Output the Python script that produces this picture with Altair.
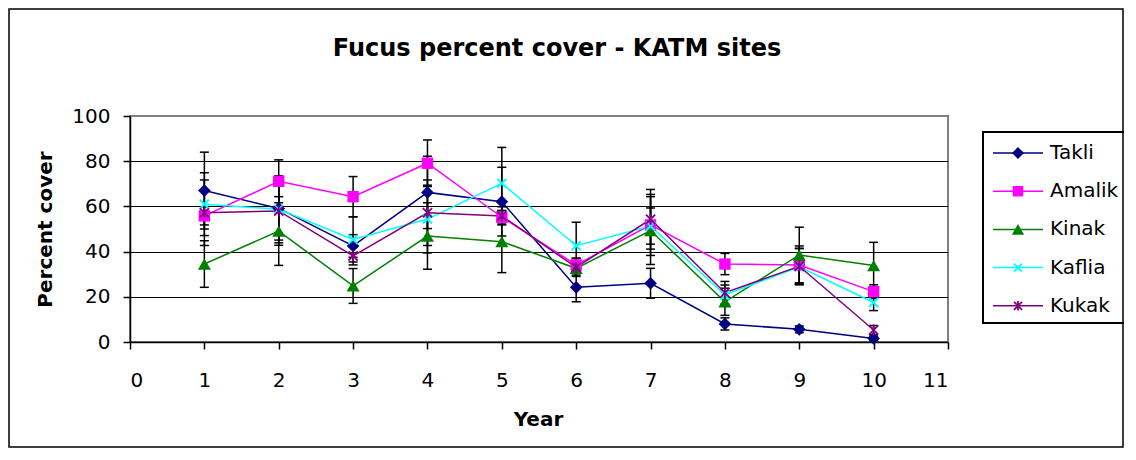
import altair as alt
import pandas as pd

years = [1, 2, 3, 4, 5, 6, 7, 8, 9, 10]
sites = ["Takli", "Amalik", "Kinak", "Kaflia", "Kukak"]
colors = ["#000080", "#FF00FF", "#008000", "#00FFFF", "#800080"]

takli = [67.0, 59.1, 42.5, 66.2, 62.1, 24.2, 26.0, 8.0, 5.6, 1.6]
takli_err = [17.0, 14.0, 5.0, 16.0, 15.2, 6.4, 6.6, 2.7, 1.5, 1.0]
amalik = [55.8, 71.1, 64.3, 79.1, 55.2, 34.1, 51.8, 34.5, 34.1, 22.3]
amalik_err = [4.0, 9.5, 8.9, 10.3, 3.0, 3.0, 13.5, 4.7, 8.4, 3.0]
kinak = [34.5, 49.1, 24.8, 46.9, 44.4, 32.6, 49.3, 17.8, 38.5, 33.8]
kinak_err = [10.3, 15.2, 7.7, 14.7, 13.7, 3.0, 15.0, 6.0, 12.3, 10.3]
kaflia = [61.0, 58.7, 45.4, 54.4, 70.2, 42.6, 51.3, 20.8, 33.3, 17.5]
kaflia_err = [13.9, 14.8, 10.0, 15.0, 15.9, 10.4, 8.0, 4.4, 8.0, 3.6]
kukak = [57.2, 58.0, 38.1, 57.2, 55.8, 33.0, 54.3, 21.8, 33.5, 5.3]
kukak_err = [14.5, 15.2, 4.0, 14.5, 4.0, 4.0, 13.2, 5.0, 8.0, 2.0]

series = [takli, amalik, kinak, kaflia, kukak]
errors = [takli_err, amalik_err, kinak_err, kaflia_err, kukak_err]

rows = []
for site, vals, errs in zip(sites, series, errors):
    for yr, v, e in zip(years, vals, errs):
        rows.append({"Year": yr, "Site": site, "Cover": v, "Lo": v - e, "Hi": v + e})
df = pd.DataFrame(rows)
legend_df = pd.DataFrame({"Site": sites, "Row": list(range(len(sites)))})

FONT = "DejaVu Sans"

x_axis = alt.Axis(values=list(range(0, 12)), format="d", title="Year", grid=False,
                  labelBaseline="alphabetic", labelPadding=37,
                  titleX=408, titleY=83, titleBaseline="alphabetic", titleAlign="center")
y_axis = alt.Axis(values=[0, 20, 40, 60, 80, 100], title="Percent cover", grid=True,
                  gridOpacity={"condition": {"test": "datum.value === 0 || datum.value === 100", "value": 0}, "value": 1},
                  labelPadding=13, titleX=-85, titleY=113, titleAngle=270,
                  titleAlign="center", titleBaseline="middle")

xs = alt.Scale(domain=[0, 11], nice=False, zero=False)
ys = alt.Scale(domain=[0, 100], nice=False)
cs = alt.Scale(domain=sites, range=colors)

base = alt.Chart(df)
X = alt.X("Year:Q", scale=xs, axis=x_axis)

err_rule = base.mark_rule(color="black", strokeWidth=1.5).encode(
    x=X, y=alt.Y("Lo:Q", scale=ys, axis=y_axis), y2="Hi:Q",
)
cap_lo = base.mark_tick(color="black", orient="horizontal", size=9, thickness=1.5, opacity=1).encode(
    x=X, y=alt.Y("Lo:Q", scale=ys, axis=y_axis),
)
cap_hi = base.mark_tick(color="black", orient="horizontal", size=9, thickness=1.5, opacity=1).encode(
    x=X, y=alt.Y("Hi:Q", scale=ys, axis=y_axis),
)
lines = base.mark_line(strokeWidth=1.5).encode(
    x=X, y=alt.Y("Cover:Q", scale=ys, axis=y_axis),
    color=alt.Color("Site:N", scale=cs, legend=None),
)

XPATH = "M-1,-1L1,1M-1,1L1,-1"
ASTPATH = "M-1,-1L1,1M-1,1L1,-1M0,-1.2L0,1.2"
marker_defs = {
    "Takli": dict(shape="diamond", filled=True, size=160),
    "Amalik": dict(shape="square", filled=True, size=130),
    "Kinak": dict(shape="triangle-up", filled=True, size=170),
    "Kaflia": dict(shape=XPATH, filled=False, size=80, strokeWidth=2),
    "Kukak": dict(shape=ASTPATH, filled=False, size=85, strokeWidth=1.8),
}
legend_marker_defs = {
    "Takli": dict(shape="diamond", filled=True, size=140),
    "Amalik": dict(shape="square", filled=True, size=110),
    "Kinak": dict(shape="triangle-up", filled=True, size=150),
    "Kaflia": dict(shape=XPATH, filled=False, size=64, strokeWidth=2),
    "Kukak": dict(shape=ASTPATH, filled=False, size=64, strokeWidth=1.8),
}

point_layers = []
for s in sites:
    point_layers.append(
        base.transform_filter(alt.datum.Site == s).mark_point(opacity=1, **marker_defs[s]).encode(
            x=X, y=alt.Y("Cover:Q", scale=ys, axis=y_axis),
            color=alt.Color("Site:N", scale=cs, legend=None),
        )
    )

main = alt.layer(err_rule, cap_lo, cap_hi, lines, *point_layers)

# ---- legend drawn as its own small layer (own x/y scales, pixel ranges) ----
lxs = alt.Scale(domain=[0, 147], range=[853, 1000])
lys = alt.Scale(domain=[-0.55, 4.45], range=[16, 207])
lbase = alt.Chart(legend_df)
LY = alt.Y("Row:Q", scale=lys, axis=None)

leg_box = lbase.mark_rect(filled=False, color="black", strokeWidth=1.5).encode(
    x=alt.X(datum=0, scale=lxs, axis=None), x2=alt.X2(datum=147),
    y=alt.Y(datum=-0.55, scale=lys, axis=None), y2=alt.Y2(datum=4.45),
)
leg_line = lbase.mark_rule(strokeWidth=1.5).encode(
    x=alt.X(datum=10, scale=lxs, axis=None), x2=alt.X2(datum=60), y=LY,
    color=alt.Color("Site:N", scale=cs, legend=None),
)
leg_pts = []
for s in sites:
    leg_pts.append(
        lbase.transform_filter(alt.datum.Site == s).mark_point(opacity=1, **legend_marker_defs[s]).encode(
            x=alt.X(datum=35, scale=lxs, axis=None), y=LY,
            color=alt.Color("Site:N", scale=cs, legend=None),
        )
    )
leg_text = lbase.mark_text(align="left", baseline="middle", font=FONT, fontSize=20, color="black").encode(
    x=alt.X(datum=67, scale=lxs, axis=None), y=LY, text="Site:N",
)
legend = alt.layer(leg_box, leg_line, *leg_pts, leg_text)

frame = alt.Chart(pd.DataFrame({"f": [0]})).mark_rect(filled=False, color="black", strokeWidth=1.5).encode(
    x=alt.value(-121), x2=alt.value(993), y=alt.value(-107), y2=alt.value(331)
)

chart = alt.layer(main, legend, frame).resolve_scale(
    x="independent", y="independent"
).properties(
    width=818,
    height=226,
    autosize=alt.AutoSizeParams(type="none"),
    padding={"left": 122, "top": 108, "right": 176, "bottom": 106},
    title=alt.TitleParams("Fucus percent cover - KATM sites", font=FONT, fontSize=24,
                          fontWeight="bold", color="black", anchor="middle", frame="group",
                          dx=18, offset=-72, baseline="alphabetic"),
).configure_view(
    stroke="#808080", strokeWidth=2
).configure_axis(
    domainColor="black", domainWidth=1.5, tickColor="black", tickWidth=1.5, tickSize=7,
    labelFont=FONT, labelFontSize=20, labelColor="black",
    titleFont=FONT, titleFontSize=20, titleFontWeight="bold", titleColor="black",
    gridColor="black", gridWidth=1,
)

chart.save("out.html", embed_options={"renderer": "svg", "actions": False})
